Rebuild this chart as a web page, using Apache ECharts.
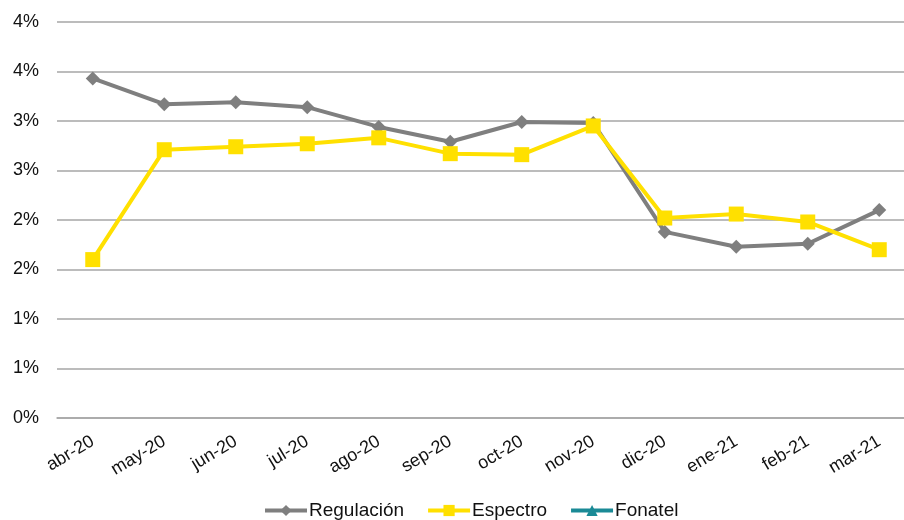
<!DOCTYPE html>
<html>
<head>
<meta charset="utf-8">
<script src="https://cdn.jsdelivr.net/npm/echarts@6/dist/echarts.min.js"></script>
<style>
html,body{margin:0;padding:0;background:#fff;}
#chart{width:904px;height:520px;}
</style>
</head>
<body>
<div id="chart"></div>
<script>
const categories = ['abr-20','may-20','jun-20','jul-20','ago-20','sep-20','oct-20','nov-20','dic-20','ene-21','feb-21','mar-21'];
const regulacion = [3.43, 3.17, 3.19, 3.14, 2.94, 2.79, 2.99, 2.98, 1.88, 1.73, 1.76, 2.10];
const espectro = [1.60, 2.71, 2.74, 2.77, 2.83, 2.67, 2.66, 2.95, 2.02, 2.06, 1.98, 1.70];
const fonatel = [null, null, null, null, null, null, null, null, null, null, null, null];
const yTicks = { min: 0, max: 4, interval: 0.5 };

const chart = echarts.init(document.getElementById('chart'));
const font = 'Liberation Sans, Arial, sans-serif';
chart.setOption({
  animation: false,
  backgroundColor: '#ffffff',
  grid: { left: 57, top: 22, right: -11, bottom: 102, containLabel: false, outerBoundsMode: 'none' },
  xAxis: {
    type: 'category',
    data: categories,
    boundaryGap: true,
    axisLine: { show: true, lineStyle: { color: '#a6a6a6', width: 1.5 } },
    axisTick: { show: false },
    axisLabel: { rotate: 31, color: '#111', fontFamily: font, fontSize: 18, margin: 22 }
  },
  yAxis: {
    type: 'value',
    min: yTicks.min, max: yTicks.max, interval: yTicks.interval,
    axisLine: { show: false },
    axisTick: { show: false },
    splitLine: { lineStyle: { color: '#a6a6a6', width: 1.5 } },
    axisLabel: {
      color: '#111', fontFamily: font, fontSize: 18, margin: 18,
      formatter: v => Math.round(v) + '%'
    }
  },
  legend: {
    top: 496,
    left: 258,
    itemWidth: 42,
    itemHeight: 14,
    itemGap: 22,
    lineStyle: { width: 4 },
    textStyle: { color: '#111', fontFamily: font, fontSize: 19, padding: [0,0,0,-3] },
    data: ['Regulación','Espectro','Fonatel']
  },
  series: [
    {
      name: 'Regulación', type: 'line', data: regulacion,
      symbol: 'diamond', symbolSize: 14,
      color: '#7f7f7f',
      lineStyle: { width: 4, color: '#7f7f7f' },
      itemStyle: { color: '#7f7f7f' }
    },
    {
      name: 'Espectro', type: 'line', data: espectro,
      symbol: 'rect', symbolSize: 15,
      color: '#ffe000',
      lineStyle: { width: 4, color: '#ffe000' },
      itemStyle: { color: '#ffe000' }
    },
    {
      name: 'Fonatel', type: 'line', data: fonatel,
      symbol: 'triangle', symbolSize: 12,
      color: '#1a8a96',
      lineStyle: { width: 4, color: '#1a8a96' },
      itemStyle: { color: '#1a8a96' }
    }
  ]
});
</script>
</body>
</html>
